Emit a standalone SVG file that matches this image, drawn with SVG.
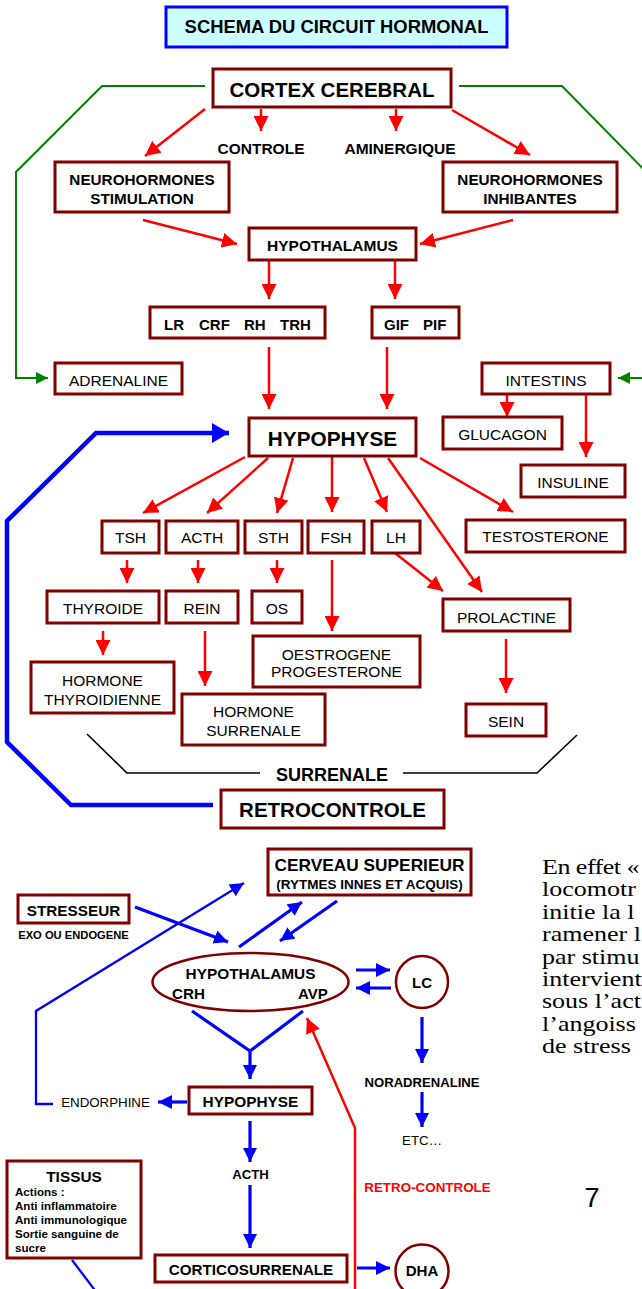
<svg xmlns="http://www.w3.org/2000/svg" width="642" height="1289" viewBox="0 0 642 1289">
  <style>
    text { font-family: "Liberation Sans", Arial, sans-serif; fill: #000; }
    .b { font-weight: bold; text-anchor: middle; }
    .n { text-anchor: middle; }
    .box { fill: #fff; stroke: #800000; stroke-width: 3; }
    .red { fill: none; stroke: #f00; stroke-width: 2.5; marker-end: url(#arR); }
    .blue { fill: none; stroke: #00f; stroke-width: 3.2; marker-end: url(#arB); }
    .blueline { fill: none; stroke: #00f; stroke-width: 3.2; }
    .thin { fill: none; stroke: #00f; stroke-width: 2.3; }
    .green { fill: none; stroke: #008000; stroke-width: 2; marker-end: url(#arG); }
    .black { fill: none; stroke: #000; stroke-width: 1.6; }
    .serif { font-family: "Liberation Serif", "Times New Roman", serif; font-size: 20px; }
  </style>
  <defs>
    <marker id="arR" markerUnits="userSpaceOnUse" markerWidth="15" markerHeight="15" refX="15" refY="7.5" orient="auto">
      <path d="M0,0 L15,7.5 L0,15 z" fill="#f00"/>
    </marker>
    <marker id="arB" markerUnits="userSpaceOnUse" markerWidth="14" markerHeight="14" refX="14" refY="7" orient="auto">
      <path d="M0,0 L14,7 L0,14 z" fill="#00f"/>
    </marker>
    <marker id="arBig" markerUnits="userSpaceOnUse" markerWidth="17" markerHeight="20" refX="17" refY="10" orient="auto">
      <path d="M0,0 L17,10 L0,20 z" fill="#00f"/>
    </marker>
    <marker id="arG" markerUnits="userSpaceOnUse" markerWidth="12" markerHeight="12" refX="12" refY="6" orient="auto">
      <path d="M0,0 L12,6 L0,12 z" fill="#008000"/>
    </marker>
  </defs>

  <!-- connectors -->
  <g id="connectors">
    <!-- nervous pathways (green) -->
    <path class="green" d="M205,86 L102,86 L16,172 L16,378 L48,378"/>
    <path class="green" d="M459,86 L562,86 L660,186 L660,378 L618,378"/>

    <!-- hormonal cascade (red) -->
    <path class="red" d="M205,109 L145,156"/>
    <path class="red" d="M261,109 L261,131"/>
    <path class="red" d="M396,109 L396,131"/>
    <path class="red" d="M452,110 L530,155"/>
    <path class="red" d="M143,220 L237,244"/>
    <path class="red" d="M513,220 L420,244"/>
    <path class="red" d="M269,260 L269,299"/>
    <path class="red" d="M395,260 L395,299"/>
    <path class="red" d="M269,347 L269,409"/>
    <path class="red" d="M387,347 L387,409"/>
    <path class="red" d="M507,394 L507,417"/>
    <path class="red" d="M586,394 L586,457"/>
    <path class="red" d="M245,457 L143,513"/>
    <path class="red" d="M268,458 L207,513"/>
    <path class="red" d="M293,458 L277,513"/>
    <path class="red" d="M332,457 L332,512"/>
    <path class="red" d="M364,458 L387,512"/>
    <path class="red" d="M388,458 L482,592"/>
    <path class="red" d="M420,458 L513,512"/>
    <path class="red" d="M127,560 L127,583"/>
    <path class="red" d="M198,560 L198,583"/>
    <path class="red" d="M277,560 L277,583"/>
    <path class="red" d="M332,560 L332,631"/>
    <path class="red" d="M395,553 L443,591"/>
    <path class="red" d="M103,631 L103,655"/>
    <path class="red" d="M205,631 L205,686"/>
    <path class="red" d="M506,639 L506,693"/>

    <!-- surrenale bracket -->
    <path class="black" d="M87,734 L127,773 L260,773"/>
    <path class="black" d="M403,773 L537,773 L577,735"/>

    <!-- feedback loop -->
    <path d="M213,805 L71,805 L7,742 L7,521 L96,433 L229,433" fill="none" stroke="#00f" stroke-width="4.5" marker-end="url(#arBig)"/>

    <!-- stress axis (blue) -->
    <path class="blue" d="M135,907 L228,942"/>
    <path class="blue" d="M239,947 L302,902"/>
    <path class="blue" d="M337,901 L280,941"/>
    <path class="blue" d="M356,970 L390,970"/>
    <path class="blue" d="M391,988 L356,988"/>
    <path class="blue" d="M422,1017 L422,1063"/>
    <path class="blue" d="M422,1092 L422,1127"/>
    <path class="blueline" d="M192,1011 L250,1051 L303,1011"/>
    <path class="blue" d="M250,1050 L250,1079"/>
    <path class="blue" d="M187,1102 L158,1102"/>
    <path class="blue" d="M250,1121 L250,1162"/>
    <path class="blue" d="M250,1185 L250,1248"/>
    <path class="blue" d="M357,1268 L390,1268"/>
    <path class="thin" d="M53,1104 L36,1104 L36,1011 L244,883" marker-end="url(#arB)"/>
    <path class="thin" d="M72,1260 L97,1293"/>

    <!-- retro-controle (red) -->
    <path class="red" d="M355,1295 L355,1128 L307,1018"/>
  </g>

  <!-- title -->
  <g id="title">
    <rect x="166" y="7" width="341" height="40" fill="#ccffff" stroke="#0000ff" stroke-width="3"/>
    <text class="b" x="336.5" y="33" font-size="18.4">SCHEMA DU CIRCUIT HORMONAL</text>
  </g>

  <g id="cortex">
    <rect class="box" x="213" y="69" width="238" height="38"/>
    <text class="b" x="332" y="97" font-size="20.5">CORTEX CEREBRAL</text>
  </g>
  <g id="controle"><text class="b" x="261" y="154" font-size="15.5">CONTROLE</text></g>
  <g id="aminergique"><text class="b" x="400" y="154" font-size="15.5">AMINERGIQUE</text></g>

  <g id="neuro-stim">
    <rect class="box" x="55" y="162" width="174" height="50"/>
    <text class="b" x="142" y="185" font-size="15.3">NEUROHORMONES</text>
    <text class="b" x="142" y="204" font-size="15.3">STIMULATION</text>
  </g>
  <g id="neuro-inhib">
    <rect class="box" x="443" y="162" width="174" height="50"/>
    <text class="b" x="530" y="185" font-size="15.3">NEUROHORMONES</text>
    <text class="b" x="530" y="204" font-size="15.3">INHIBANTES</text>
  </g>

  <g id="hypothalamus">
    <rect class="box" x="249" y="228" width="167" height="32"/>
    <text class="b" x="332.5" y="250.5" font-size="15.5">HYPOTHALAMUS</text>
  </g>

  <g id="liberines">
    <rect class="box" x="150" y="307" width="175" height="31"/>
    <text font-weight="bold" font-size="15" y="330"><tspan x="164">LR</tspan><tspan x="199">CRF</tspan><tspan x="244">RH</tspan><tspan x="280">TRH</tspan></text>
  </g>
  <g id="inhibines">
    <rect class="box" x="372" y="307" width="87" height="31"/>
    <text font-weight="bold" font-size="15" y="330"><tspan x="384">GIF</tspan><tspan x="423">PIF</tspan></text>
  </g>

  <g id="adrenaline">
    <rect class="box" x="55" y="363" width="127" height="31"/>
    <text class="n" x="118.5" y="385.5" font-size="15.5">ADRENALINE</text>
  </g>
  <g id="intestins">
    <rect class="box" x="482" y="363" width="128" height="31"/>
    <text class="n" x="546" y="385.5" font-size="15.5">INTESTINS</text>
  </g>

  <g id="hypophyse">
    <rect class="box" x="249" y="418" width="167" height="38"/>
    <text class="b" x="332.5" y="445.5" font-size="20.8">HYPOPHYSE</text>
  </g>

  <g id="glucagon">
    <rect class="box" x="443" y="417" width="119" height="32"/>
    <text class="n" x="502.5" y="440" font-size="15.5">GLUCAGON</text>
  </g>
  <g id="insuline">
    <rect class="box" x="521" y="465" width="104" height="32"/>
    <text class="n" x="573" y="487.5" font-size="15.5">INSULINE</text>
  </g>

  <g id="tsh">
    <rect class="box" x="102" y="521" width="57" height="32"/>
    <text class="n" x="130.5" y="543" font-size="15.5">TSH</text>
  </g>
  <g id="acth">
    <rect class="box" x="166" y="521" width="72" height="32"/>
    <text class="n" x="202" y="543" font-size="15.5">ACTH</text>
  </g>
  <g id="sth">
    <rect class="box" x="245" y="521" width="57" height="32"/>
    <text class="n" x="273.5" y="543" font-size="15.5">STH</text>
  </g>
  <g id="fsh">
    <rect class="box" x="308" y="521" width="56" height="32"/>
    <text class="n" x="336" y="543" font-size="15.5">FSH</text>
  </g>
  <g id="lh">
    <rect class="box" x="372" y="521" width="48" height="32"/>
    <text class="n" x="396" y="543" font-size="15.5">LH</text>
  </g>
  <g id="testosterone">
    <rect class="box" x="466" y="520" width="159" height="32"/>
    <text class="n" x="545.5" y="542" font-size="15.5">TESTOSTERONE</text>
  </g>

  <g id="thyroide">
    <rect class="box" x="47" y="591" width="112" height="32"/>
    <text class="n" x="103" y="614" font-size="15.5">THYROIDE</text>
  </g>
  <g id="rein">
    <rect class="box" x="166" y="591" width="72" height="32"/>
    <text class="n" x="202" y="614" font-size="15.5">REIN</text>
  </g>
  <g id="os">
    <rect class="box" x="252" y="591" width="50" height="32"/>
    <text class="n" x="277" y="614" font-size="15.5">OS</text>
  </g>
  <g id="prolactine">
    <rect class="box" x="443" y="599" width="127" height="32"/>
    <text class="n" x="506.5" y="623" font-size="15.5">PROLACTINE</text>
  </g>
  <g id="oestrogene">
    <rect class="box" x="253" y="636" width="167" height="51"/>
    <text class="n" x="336.5" y="660" font-size="15.5">OESTROGENE</text>
    <text class="n" x="336.5" y="677" font-size="15.5">PROGESTERONE</text>
  </g>
  <g id="hormone-thyroidienne">
    <rect class="box" x="31" y="662" width="143" height="51"/>
    <text class="n" x="102.5" y="686" font-size="15.5">HORMONE</text>
    <text class="n" x="102.5" y="705" font-size="15.5">THYROIDIENNE</text>
  </g>
  <g id="hormone-surrenale">
    <rect class="box" x="182" y="694" width="143" height="51"/>
    <text class="n" x="253.5" y="717" font-size="15.5">HORMONE</text>
    <text class="n" x="253.5" y="736" font-size="15.5">SURRENALE</text>
  </g>
  <g id="sein">
    <rect class="box" x="466" y="704" width="80" height="32"/>
    <text class="n" x="506" y="727" font-size="15.5">SEIN</text>
  </g>

  <g id="surrenale"><text class="b" x="332" y="780.5" font-size="18">SURRENALE</text></g>

  <g id="retrocontrole">
    <rect class="box" x="221" y="790" width="223" height="38"/>
    <text class="b" x="332.5" y="817" font-size="20.5">RETROCONTROLE</text>
  </g>

  <!-- stress axis -->
  <g id="cerveau">
    <rect class="box" x="268" y="849" width="203" height="46"/>
    <text class="b" x="369.5" y="870.5" font-size="17.3">CERVEAU SUPERIEUR</text>
    <text class="b" x="369.5" y="889" font-size="13.5">(RYTMES INNES ET ACQUIS)</text>
  </g>
  <g id="stresseur">
    <rect class="box" x="18" y="895" width="111" height="28"/>
    <text class="b" x="73.5" y="916" font-size="15.3">STRESSEUR</text>
    <text class="b" x="73.5" y="939" font-size="11.2">EXO OU ENDOGENE</text>
  </g>
  <g id="hypothalamus-2">
    <ellipse cx="250.5" cy="982" rx="98" ry="29" fill="#fff" stroke="#800000" stroke-width="2.5"/>
    <text class="b" x="250.5" y="979" font-size="15.4">HYPOTHALAMUS</text>
    <text font-weight="bold" x="172" y="999" font-size="15.2">CRH</text>
    <text font-weight="bold" x="298" y="999" font-size="15">AVP</text>
  </g>
  <g id="lc">
    <circle cx="422" cy="982" r="26" fill="#fff" stroke="#800000" stroke-width="2.5"/>
    <text class="b" x="422" y="988" font-size="15">LC</text>
  </g>
  <g id="noradrenaline"><text class="b" x="422" y="1087" font-size="13.1">NORADRENALINE</text></g>
  <g id="etc"><text class="n" x="422" y="1145" font-size="13.3">ETC…</text></g>
  <g id="endorphine"><text class="n" x="105.5" y="1107" font-size="13.3">ENDORPHINE</text></g>
  <g id="hypophyse-2">
    <rect class="box" x="189" y="1087" width="123" height="27"/>
    <text class="b" x="250.5" y="1107" font-size="15.4">HYPOPHYSE</text>
  </g>
  <g id="acth-2"><text class="b" x="250.5" y="1179" font-size="13.2">ACTH</text></g>
  <g id="retro-controle"><text class="b" x="427.5" y="1192" font-size="13.4" style="fill:#f00">RETRO-CONTROLE</text></g>
  <g id="tissus">
    <rect class="box" x="7" y="1161" width="134" height="97"/>
    <text class="b" x="74" y="1182" font-size="15.4">TISSUS</text>
    <text font-weight="bold" font-size="11.6" x="15">
      <tspan x="15" y="1195.5">Actions :</tspan>
      <tspan x="15" y="1209.5">Anti inflammatoire</tspan>
      <tspan x="15" y="1223.5">Anti immunologique</tspan>
      <tspan x="15" y="1237.5">Sortie sanguine de</tspan>
      <tspan x="15" y="1251.5">sucre</tspan>
    </text>
  </g>
  <g id="corticosurrenale">
    <rect class="box" x="155" y="1255" width="192" height="27"/>
    <text class="b" x="251" y="1275" font-size="15.2">CORTICOSURRENALE</text>
  </g>
  <g id="dha">
    <circle cx="422" cy="1271" r="26.5" fill="#fff" stroke="#800000" stroke-width="2.5"/>
    <text class="b" x="422" y="1276" font-size="15.1">DHA</text>
  </g>

  <!-- body text column beside the stress diagram -->
  <g id="body-text" transform="translate(542 0) scale(1.3 1)">
    <text class="serif" x="0" y="874" textLength="75" lengthAdjust="spacing">En effet «</text>
    <text class="serif" x="0" y="896.4">locomotr</text>
    <text class="serif" x="0" y="918.8">initie la l</text>
    <text class="serif" x="0" y="941.2">ramener l</text>
    <text class="serif" x="0" y="963.6">par stimu</text>
    <text class="serif" x="0" y="986">intervient</text>
    <text class="serif" x="0" y="1008.4">sous l’act</text>
    <text class="serif" x="0" y="1030.8">l’angoiss</text>
    <text class="serif" x="0" y="1053.2">de stress</text>
  </g>
  <g id="page-number"><text class="n" x="592" y="1207" font-size="27">7</text></g>
</svg>
